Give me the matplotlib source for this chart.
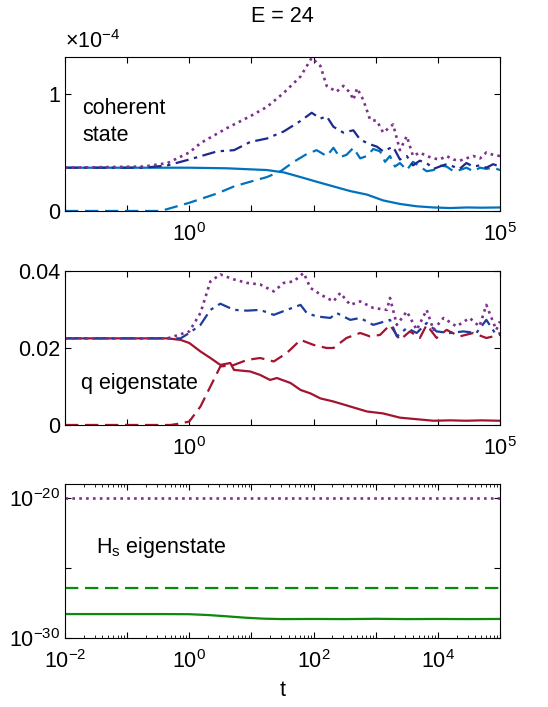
import numpy as np
import matplotlib
matplotlib.use("Agg")
import matplotlib.pyplot as plt
from matplotlib.ticker import FixedLocator, FixedFormatter, LogLocator, NullLocator, NullFormatter

plt.rcParams['font.family'] = ['Liberation Sans', 'DejaVu Sans']
plt.rcParams['mathtext.fontset'] = 'custom'
plt.rcParams['mathtext.rm'] = 'Liberation Sans'
plt.rcParams['mathtext.it'] = 'Liberation Sans'
plt.rcParams['mathtext.default'] = 'regular'
plt.rcParams['axes.unicode_minus'] = False

# ---- data (x given as log10 t) ----
# top: coherent state, values in units of 1e-4
coh_solid_lt = [-2, -1, 0, 0.6, 1.25, 1.52, 1.79, 2.05, 2.32, 2.59, 2.86, 3.12, 3.39, 3.66, 3.93, 4.2, 4.46, 4.7, 5.0]
coh_solid = [0.37, 0.37, 0.37, 0.365, 0.35, 0.33, 0.29, 0.25, 0.21, 0.17, 0.14, 0.09, 0.06, 0.04, 0.03, 0.025, 0.03, 0.028, 0.03]

coh_dash_lt = [-2, -0.46, 0, 0.45, 0.72, 0.98, 1.25, 1.47, 1.68, 1.9, 2.05, 2.21, 2.32, 2.42, 2.53, 2.64, 2.75, 2.86, 2.96, 3.07,
               3.15, 3.23, 3.31, 3.39, 3.5, 3.6, 3.71, 3.82, 3.93, 4.03, 4.14, 4.25, 4.35, 4.46, 4.57, 4.68, 4.78, 4.89, 5.0]
coh_dash = [0, 0, 0.07, 0.15, 0.21, 0.25, 0.29, 0.34, 0.42, 0.49, 0.52, 0.47, 0.54, 0.46, 0.48, 0.54, 0.45, 0.47, 0.53, 0.51,
            0.42, 0.47, 0.38, 0.41, 0.35, 0.42, 0.38, 0.34, 0.35, 0.39, 0.38, 0.34, 0.35, 0.37, 0.34, 0.37, 0.36, 0.37, 0.35]

coh_dashdot_lt = [-2, -0.73, -0.35, 0, 0.45, 0.72, 0.98, 1.25, 1.52, 1.79, 1.97, 2.11, 2.21, 2.32, 2.48, 2.64, 2.75, 2.91, 3.02,
                  3.12, 3.28, 3.39, 3.5, 3.6, 3.71, 3.82, 3.93, 4.03, 4.14, 4.25, 4.35, 4.46, 4.57, 4.68, 4.78, 4.89, 5.0]
coh_dashdot = [0.37, 0.37, 0.39, 0.44, 0.51, 0.52, 0.59, 0.62, 0.68, 0.77, 0.84, 0.79, 0.81, 0.72, 0.67, 0.69, 0.61, 0.57, 0.55,
               0.51, 0.55, 0.44, 0.47, 0.39, 0.43, 0.41, 0.36, 0.38, 0.40, 0.38, 0.36, 0.41, 0.38, 0.39, 0.37, 0.40, 0.38]

coh_dot_lt = [-2, -0.73, -0.35, 0, 0.18, 0.61, 0.98, 1.25, 1.52, 1.79, 1.97, 2.11, 2.21, 2.37, 2.48, 2.59, 2.64, 2.70, 2.80, 2.91,
              3.02, 3.12, 3.28, 3.39, 3.50, 3.60, 3.71, 3.82, 3.93, 4.03, 4.14, 4.25, 4.35, 4.46, 4.57, 4.68, 4.78, 4.89, 5.0]
coh_dot = [0.37, 0.38, 0.41, 0.50, 0.58, 0.71, 0.81, 0.89, 1.01, 1.15, 1.31, 1.24, 1.07, 1.02, 1.07, 1.01, 0.95, 1.05, 0.95, 0.78,
           0.77, 0.67, 0.74, 0.52, 0.64, 0.47, 0.50, 0.47, 0.45, 0.44, 0.47, 0.44, 0.43, 0.45, 0.47, 0.45, 0.50, 0.48, 0.47]

# middle: q eigenstate
q_solid_lt = [-2, -0.35, -0.14, 0, 0.18, 0.34, 0.50, 0.66, 0.72, 0.85, 0.98, 1.14, 1.30, 1.41, 1.63, 1.79, 1.95, 2.11, 2.32,
              2.59, 2.86, 3.12, 3.39, 3.66, 3.93, 4.2, 4.46, 4.7, 5.0]
q_solid = [0.0225, 0.0225, 0.0221, 0.0213, 0.0191, 0.0174, 0.0156, 0.0161, 0.0143, 0.0141, 0.0139, 0.0130, 0.0117, 0.0122,
           0.0109, 0.0091, 0.0082, 0.0069, 0.0061, 0.0048, 0.0035, 0.0030, 0.0019, 0.0015, 0.0011, 0.0012, 0.0011, 0.0012, 0.0011]

q_dash_lt = [-2, -0.3, -0.14, 0, 0.18, 0.34, 0.50, 0.72, 0.93, 1.14, 1.36, 1.57, 1.79, 2.0, 2.21, 2.32, 2.53, 2.75, 2.91, 3.07,
             3.23, 3.39, 3.55, 3.71, 3.82, 3.98, 4.14, 4.35, 4.57, 4.78, 5.0]
q_dash = [0, 0, 0.0004, 0.0009, 0.0048, 0.0100, 0.0152, 0.0156, 0.0169, 0.0174, 0.0165, 0.0187, 0.0221, 0.0208, 0.0200, 0.0200,
          0.0226, 0.0239, 0.0230, 0.0234, 0.0260, 0.0221, 0.0243, 0.0226, 0.0260, 0.0226, 0.0247, 0.0230, 0.0239, 0.0226, 0.0234]

q_dashdot_lt = [-2, -0.14, 0, 0.18, 0.34, 0.50, 0.72, 0.93, 1.14, 1.36, 1.57, 1.79, 1.89, 2.05, 2.27, 2.37, 2.59, 2.75, 2.96,
                3.23, 3.34, 3.50, 3.66, 3.82, 3.98, 4.19, 4.41, 4.62, 4.78, 4.94, 5.0]
q_dashdot = [0.0225, 0.0225, 0.0239, 0.0260, 0.0299, 0.0315, 0.0299, 0.0297, 0.0299, 0.0286, 0.0299, 0.0312, 0.0291, 0.0282,
             0.0278, 0.0291, 0.0273, 0.0278, 0.0260, 0.0273, 0.0230, 0.0252, 0.0239, 0.0265, 0.0243, 0.0239, 0.0243, 0.0239,
             0.0273, 0.0234, 0.0239]

q_dot_lt = [-2, -0.35, 0, 0.18, 0.34, 0.50, 0.72, 0.93, 1.14, 1.36, 1.52, 1.68, 1.84, 1.95, 2.11, 2.32, 2.43, 2.59, 2.75, 2.96,
            3.18, 3.23, 3.34, 3.50, 3.66, 3.82, 3.93, 4.09, 4.30, 4.51, 4.67, 4.78, 4.94, 5.0]
q_dot = [0.0225, 0.0225, 0.0243, 0.0291, 0.0373, 0.0391, 0.0378, 0.0369, 0.0365, 0.0347, 0.0369, 0.0373, 0.0395, 0.0356,
         0.0339, 0.0321, 0.0343, 0.0312, 0.0321, 0.0304, 0.0299, 0.0330, 0.0260, 0.0295, 0.0247, 0.0299, 0.0247, 0.0278,
         0.0256, 0.0278, 0.0256, 0.0312, 0.0247, 0.0269]

# bottom: H_s eigenstate, log10 of values
hs_dot_lt = [-2, 5]
hs_dot_exp = [-20, -20]
hs_dash_lt = [-2, 5]
hs_dash_exp = [-26.43, -26.43]
hs_solid_lt = [-2, -0.5, 0, 0.3, 0.6, 0.9, 1.2, 1.5, 2, 2.5, 3, 3.5, 4, 4.5, 5]
hs_solid_exp = [-28.29, -28.29, -28.30, -28.36, -28.45, -28.55, -28.62, -28.65, -28.64, -28.65, -28.63, -28.65, -28.64,
                -28.65, -28.64]

c_light = '#0072BD'
c_navy = '#1B2A8C'
c_blue = '#1D3C9E'
c_purple = '#7E2F8E'
c_red = '#A2142F'
c_green = '#0B8A0B'

dash = (0, (6, 3))
dashdot = (0, (6, 2.5, 1.5, 2.5))
dot = (0, (1, 1.6))
lw = 1.6
fs = 15.5


def t(lt):
    return 10.0 ** np.asarray(lt)


def style(ax):
    ax.set_xscale('log')
    ax.set_xlim(1e-2, 1e5)
    ax.tick_params(which='both', direction='in', top=True, right=True, labelsize=fs)
    ax.tick_params(which='major', length=4.5, width=0.8)
    ax.tick_params(which='minor', length=2.5, width=0.6)
    ax.tick_params(axis='x', which='major', pad=9)
    for s in ax.spines.values():
        s.set_linewidth(0.8)


fig = plt.figure(figsize=(5.48, 7.07), dpi=100)
L, W, H = 0.1186, 0.7938, 0.2178

# top panel
ax1 = fig.add_axes([L, 0.7016, W, H])
ax1.plot(t(coh_solid_lt), coh_solid, color=c_light, lw=lw)
ax1.plot(t(coh_dash_lt), coh_dash, color=c_light, lw=lw, linestyle=dash)
ax1.plot(t(coh_dashdot_lt), coh_dashdot, color=c_navy, lw=lw, linestyle=dashdot)
ax1.plot(t(coh_dot_lt), coh_dot, color=c_purple, lw=lw + 0.3, linestyle=dot)
style(ax1)
ax1.set_ylim(0, 1.317)
ax1.set_yticks([0, 1])
ax1.set_yticklabels(['0', '1'])
ax1.xaxis.set_major_locator(FixedLocator([10.0 ** k for k in range(-2, 6)]))
ax1.xaxis.set_major_formatter(FixedFormatter(['', '', r'$10^{0}$', '', '', '', '', r'$10^{5}$']))
ax1.xaxis.set_minor_locator(NullLocator())
ax1.text(0.0, 1.025, r'$\times 10^{-4}$', transform=ax1.transAxes, fontsize=fs, ha='left', va='bottom')
ax1.text(0.039, 0.735, 'coherent\nstate', transform=ax1.transAxes, fontsize=fs, ha='left', va='top', linespacing=1.4)
ax1.set_title('E = 24', fontsize=fs, pad=25)

# middle panel
ax2 = fig.add_axes([L, 0.3989, W, H])
ax2.plot(t(q_solid_lt), q_solid, color=c_red, lw=lw)
ax2.plot(t(q_dash_lt), q_dash, color=c_red, lw=lw, linestyle=dash)
ax2.plot(t(q_dashdot_lt), q_dashdot, color=c_blue, lw=lw, linestyle=dashdot)
ax2.plot(t(q_dot_lt), q_dot, color=c_purple, lw=lw + 0.3, linestyle=dot)
style(ax2)
ax2.set_ylim(0, 0.04)
ax2.set_yticks([0, 0.02, 0.04])
ax2.set_yticklabels(['0', '0.02', '0.04'])
ax2.xaxis.set_major_locator(FixedLocator([10.0 ** k for k in range(-2, 6)]))
ax2.xaxis.set_major_formatter(FixedFormatter(['', '', r'$10^{0}$', '', '', '', '', r'$10^{5}$']))
ax2.xaxis.set_minor_locator(NullLocator())
ax2.text(0.037, 0.27, 'q eigenstate', transform=ax2.transAxes, fontsize=fs, ha='left', va='center')

# bottom panel
ax3 = fig.add_axes([L, 0.0976, W, H])
ax3.plot(t(hs_solid_lt), 10.0 ** np.asarray(hs_solid_exp), color=c_green, lw=lw)
ax3.plot(t(hs_dash_lt), 10.0 ** np.asarray(hs_dash_exp), color=c_green, lw=lw, linestyle=dash)
ax3.plot(t(hs_dot_lt), 10.0 ** np.asarray(hs_dot_exp), color=c_purple, lw=lw + 0.3, linestyle=dot)
style(ax3)
ax3.set_yscale('log')
ax3.set_ylim(1e-30, 1e-19)
ax3.yaxis.set_major_locator(FixedLocator([1e-30, 1e-25, 1e-20]))
ax3.yaxis.set_major_formatter(FixedFormatter([r'$10^{-30}$', '', r'$10^{-20}$']))
ax3.yaxis.set_minor_locator(NullLocator())
ax3.yaxis.set_minor_formatter(NullFormatter())
ax3.xaxis.set_major_locator(FixedLocator([10.0 ** k for k in range(-2, 6)]))
ax3.xaxis.set_major_formatter(FixedFormatter([r'$10^{-2}$', '', r'$10^{0}$', '', r'$10^{2}$', '', r'$10^{4}$', '']))
ax3.xaxis.set_minor_locator(LogLocator(base=10, subs=np.arange(2, 10), numticks=20))
ax3.xaxis.set_minor_formatter(NullFormatter())
ax3.text(0.072, 0.59, r'H$_{s}$ eigenstate', transform=ax3.transAxes, fontsize=fs, ha='left', va='center')
ax3.set_xlabel('t', fontsize=fs, labelpad=5)

fig.savefig('out.png', dpi=100)
